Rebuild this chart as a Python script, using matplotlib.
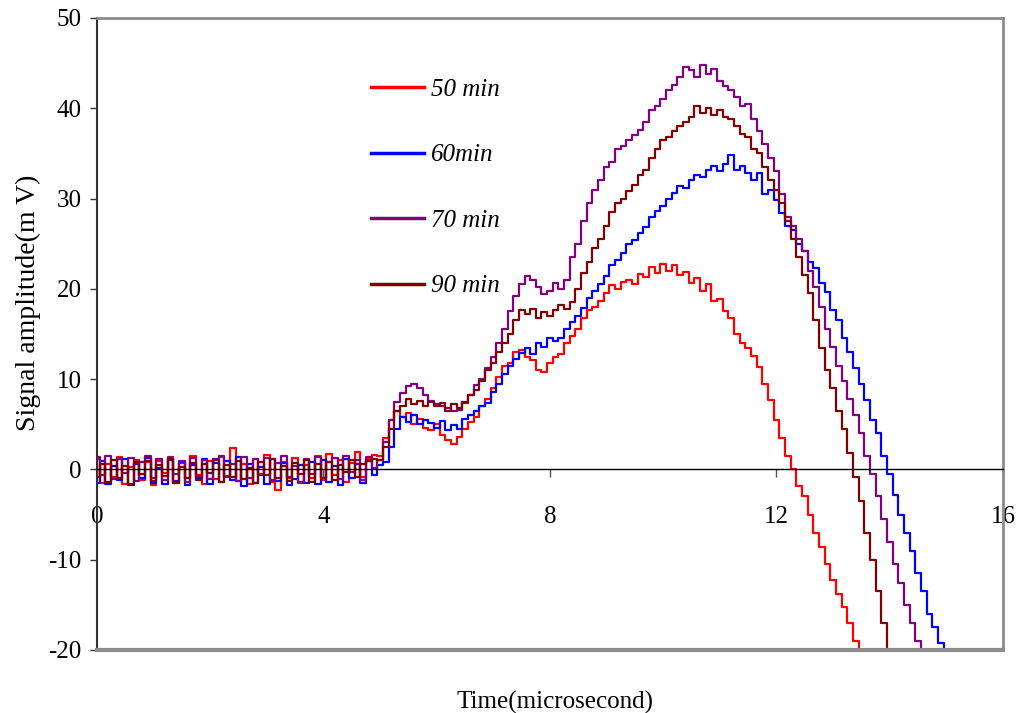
import numpy as np
import matplotlib
matplotlib.use("Agg")
import matplotlib.pyplot as plt

plt.rcParams['font.family'] = ['Liberation Serif', 'DejaVu Serif']
plt.rcParams['axes.unicode_minus'] = False

# sampling step of the traces (microsecond)
dt = 0.1

# pre-trigger baseline, 0.0 .. 4.9 us
red_base = [1.2, -1.5, 0.6, -0.8, 1.4, -1.6, 0.3, 1.0, -1.2, 0.8,
            -1.7, 0.9, -0.4, 1.3, -1.5, 0.7, -1.0, 1.5, -0.6, -1.6,
            0.9, -1.1, 1.4, -0.7, 2.4, -1.3, 0.6, -1.6, 1.1, -0.5,
            1.6, -1.4, -2.3, 0.8, -1.0, 1.3, -1.5, 0.5, -0.9, 1.5,
            -1.2, 1.7, -0.6, 1.0, -1.4, 0.7, 1.9, -0.8, 1.2, 1.6]
blue_base = [-1.5, 0.9, -1.6, 0.4, -1.2, 1.1, -1.7, 0.6, -0.9, 1.3,
             -1.5, 0.2, -1.6, 1.0, -1.3, 0.8, -1.7, 0.5, -1.0, 1.2,
             -1.6, 0.7, -1.4, 0.9, -1.2, 1.4, -1.8, 0.6, -1.5, 0.3,
             -1.6, 1.1, -1.3, 0.7, -1.7, -1.1, 0.5, -1.5, 0.8, -1.6,
             1.0, -1.4, 0.4, -1.7, 1.2, -1.0, 0.6, -1.5, 0.9, -0.6]
purple_base = [1.4, -0.6, 1.5, -1.1, 1.2, -0.4, 1.3, -1.3, 0.8, 1.5,
               -0.9, 1.1, -1.2, 1.4, -0.5, 0.9, -1.4, 1.3, -0.7, 1.0,
               -1.1, 1.2, 1.5, -0.8, 0.6, -1.3, 1.4, -0.9, 1.1, -0.6,
               1.3, -1.2, 0.7, 1.5, -0.8, 0.4, -1.4, 1.2, -0.5, 1.4,
               -1.0, 0.8, 1.3, -1.1, 1.5, -0.3, 1.0, -1.2, 1.4, 0.2]
darkred_base = [-0.8, 0.6, -1.4, 1.0, -0.9, 0.4, -1.6, 0.8, -0.5, 0.9,
                -1.3, 0.5, -0.7, 1.1, -1.5, 0.3, -0.9, 0.7, -1.2, 0.6,
                -0.4, 1.0, -1.4, 0.5, -0.8, 0.9, -1.1, 0.2, -1.5, 0.8,
                -0.6, 1.2, -1.0, 0.4, -1.3, 0.7, -0.5, 1.0, -1.4, 0.6,
                -0.9, 0.8, -1.2, 0.5, -0.3, 1.0, -0.8, 0.6, 0.9, 1.2]

# signal from 5.0 us on
red_sig = [1.5, 3.5, 5.5, 6.5, 5.8, 6.2, 5.0, 5.6, 4.6, 4.4,
           5.0, 3.8, 3.3, 2.8, 3.6, 4.5, 5.2, 5.8, 7.0, 7.8,
           9.0, 10.2, 11.5, 11.8, 13.0, 13.2, 12.4, 12.1, 11.0, 10.8,
           11.8, 12.5, 12.8, 14.0, 14.8, 15.5, 16.8, 17.7, 18.0, 18.6,
           19.5, 20.4, 20.0, 20.8, 21.0, 20.5, 21.6, 21.3, 22.4, 21.8,
           22.8, 22.0, 22.6, 21.5, 21.9, 20.6, 21.2, 19.8, 20.5, 18.6,
           18.9, 17.5, 16.8, 15.0, 14.0, 13.4, 12.6, 11.3, 9.5, 7.7,
           5.5, 3.5, 1.5, 0.0, -1.8, -3.0, -5.0, -7.0, -8.6, -10.5,
           -12.3, -13.8, -15.2, -17.0, -19.0, -20.5]
blue_sig = [0.5, 0.8, 2.5, 4.5, 5.8, 5.2, 6.0, 5.0, 5.5, 5.1,
            4.6, 5.4, 4.4, 4.9, 4.5, 5.6, 6.0, 6.5, 7.0, 7.4,
            8.6, 9.5, 10.6, 11.5, 12.2, 12.9, 13.5, 12.8, 14.0, 13.6,
            14.6, 14.2, 14.6, 15.5, 16.3, 17.0, 17.9, 19.0, 19.8, 20.5,
            21.4, 22.6, 23.2, 24.0, 25.0, 25.4, 26.2, 26.8, 28.0, 28.6,
            29.2, 30.0, 30.6, 31.4, 31.2, 32.0, 32.6, 32.4, 33.2, 33.6,
            33.0, 33.8, 34.8, 33.2, 33.6, 32.8, 32.0, 32.8, 30.5, 31.0,
            29.8, 28.4, 27.0, 26.5, 25.0, 24.2, 23.0, 22.3, 20.6, 19.6,
            17.7, 16.5, 14.6, 13.0, 11.2, 9.5, 7.7, 5.5, 4.0, 1.5,
            -0.5, -2.8, -5.0, -7.0, -9.0, -11.5, -13.5, -16.0, -17.5, -19.2,
            -20.5]
purple_sig = [1.0, 3.0, 5.5, 7.5, 8.5, 9.2, 9.5, 9.0, 8.2, 7.6,
              7.2, 7.0, 6.8, 6.5, 6.6, 7.4, 8.2, 9.3, 10.0, 11.2,
              12.5, 14.0, 15.5, 17.5, 19.2, 20.5, 21.4, 21.0, 20.2, 19.4,
              19.8, 20.6, 20.0, 21.0, 23.5, 25.0, 27.5, 29.5, 31.0, 32.0,
              33.5, 34.0, 35.5, 35.8, 36.5, 37.0, 37.6, 38.5, 39.8, 40.2,
              41.0, 42.0, 42.6, 43.5, 44.6, 44.2, 43.5, 44.8, 43.8, 44.3,
              43.0, 42.5, 42.0, 41.2, 40.2, 40.5, 38.8, 37.5, 36.0, 34.5,
              33.0, 30.5, 28.0, 27.0, 25.5, 24.2, 22.0, 20.2, 18.0, 15.6,
              13.6, 11.5, 9.8, 7.8, 6.0, 4.0, 1.5, -0.5, -3.0, -5.5,
              -8.0, -10.5, -12.6, -15.0, -17.0, -19.0, -20.5]
darkred_sig = [1.0, 2.5, 4.5, 6.5, 7.0, 7.8, 7.2, 7.6, 7.0, 7.5,
               7.0, 7.3, 6.5, 7.2, 6.8, 7.5, 8.2, 8.8, 9.8, 11.0,
               11.8, 13.0, 14.0, 15.0, 16.5, 17.6, 17.2, 17.8, 16.8, 17.4,
               17.0, 17.6, 18.2, 17.8, 18.5, 20.0, 21.8, 23.0, 24.5, 25.5,
               27.0, 28.5, 29.5, 30.0, 30.8, 31.5, 32.6, 33.2, 34.5, 35.5,
               36.5, 36.8, 37.5, 38.0, 38.5, 39.0, 40.2, 39.5, 40.0, 39.2,
               39.8, 39.0, 38.8, 38.0, 37.2, 36.8, 35.5, 35.0, 33.5, 32.0,
               31.0, 29.5, 27.5, 25.5, 23.5, 21.5, 19.5, 16.5, 13.5, 11.0,
               9.0, 6.5, 4.5, 1.8, -0.8, -3.5, -7.0, -10.0, -13.5, -17.0,
               -20.5]

labels = ['50 min', '60min', '70 min', '90 min']
colors = ['#FF0000', '#0000FF', '#800080', '#800000']
traces = [red_base + red_sig, blue_base + blue_sig,
          purple_base + purple_sig, darkred_base + darkred_sig]

fig = plt.figure(figsize=(10.24, 7.13), dpi=100)
ax = fig.add_axes([0.0947, 0.0884, 0.8848, 0.8864])

for y, c, lab in zip(traces, colors, labels):
    t = np.arange(len(y)) * dt
    ax.plot(t, y, color=c, lw=1.6, label=lab, drawstyle='steps-mid')

ax.set_xlim(0, 16)
ax.set_ylim(-20, 50)
ax.set_xticks([0, 4, 8, 12, 16])
ax.set_yticks(range(-20, 51, 10))

# x axis drawn through zero, frame kept around the plot
ax.spines['bottom'].set_position(('data', 0))
ax.spines['bottom'].set_color('black')
ax.spines['bottom'].set_linewidth(1.0)
ax.spines['left'].set_color('#333333')
ax.spines['left'].set_linewidth(1.5)
for s in ['top', 'right']:
    ax.spines[s].set_color('#8c8c8c')
    ax.spines[s].set_linewidth(2.0)
ax.axhline(-20, color='#8c8c8c', lw=3, clip_on=False, zorder=5)

ax.tick_params(axis='x', direction='out', length=6, width=1, color='#555555',
               pad=20, labelsize=18)
ax.tick_params(axis='y', direction='out', length=5, width=1, color='#333333',
               pad=6, labelsize=18)

ax.set_xlabel('Time(microsecond)', fontsize=18)
ax.xaxis.set_label_coords(0.505, -0.065)
ax.set_ylabel('Signal amplitude(m V)', fontsize=20)
ax.yaxis.set_label_coords(-0.062, 0.55)

leg = ax.legend(loc='upper left', bbox_to_anchor=(0.278, 0.94), frameon=False,
                handlelength=2.1, handletextpad=0.3, labelspacing=1.72,
                prop={'style': 'italic', 'size': 18})
for line in leg.get_lines():
    line.set_linewidth(2.5)

fig.savefig('out.png', dpi=100)
